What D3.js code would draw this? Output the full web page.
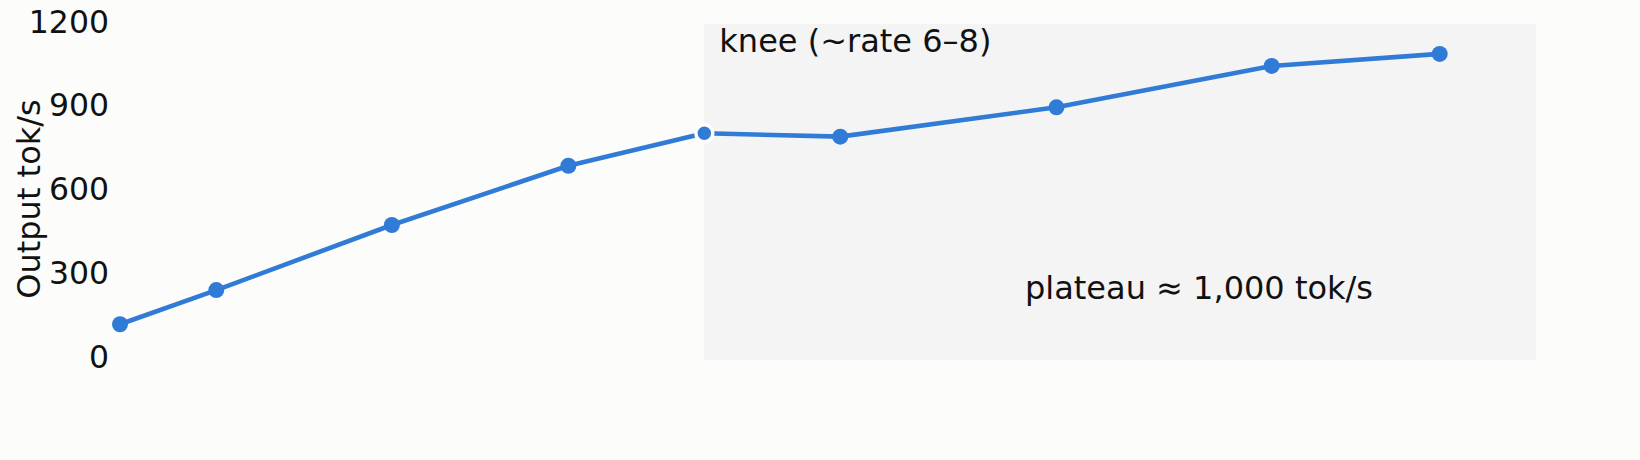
<!DOCTYPE html>
<html>
<head>
<meta charset="utf-8">
<script src="https://cdn.jsdelivr.net/npm/d3@7"></script>
<style>
  html, body { margin: 0; padding: 0; background: #fcfcfa; }
  svg { display: block; }
  text { font-family: "DejaVu Sans", sans-serif; fill: #111; }
</style>
</head>
<body>
<svg id="chart" width="1640" height="460"></svg>
<script>
// ---- data ----
const rates = [1, 2.02, 3.88, 5.75, 7.19, 8.63, 10.92, 13.2, 14.98];
const tokPerSec = [119, 241, 474, 686, 802, 790, 895, 1043, 1086];
const yTicks = [0, 300, 600, 900, 1200];
const kneeIndex = 4;
const shadeRates = [7.19, 16];
const annotKnee = "knee (~rate 6–8)";
const annotPlateau = "plateau ≈ 1,000 tok/s";
const yLabel = "Output tok/s";

// ---- layout ----
const W = 1640, H = 460;
const margin = { top: 24, right: 104, bottom: 100, left: 120 };
const iw = W - margin.left - margin.right;
const ih = H - margin.top - margin.bottom;

const svg = d3.select("#chart");
svg.append("rect").attr("width", W).attr("height", H).attr("fill", "#fcfcfa");
const g = svg.append("g").attr("transform", `translate(${margin.left},${margin.top})`);

const x = d3.scaleLinear().domain([1, 16]).range([0, iw]);
const y = d3.scaleLinear().domain([-9, 1193]).range([ih, 0]);

// shaded knee/plateau region
g.append("rect")
  .attr("x", x(shadeRates[0]))
  .attr("width", x(shadeRates[1]) - x(shadeRates[0]))
  .attr("y", 0)
  .attr("height", ih)
  .attr("fill", "#f4f4f4");

// y axis (labels only)
const yAxis = d3.axisLeft(y).tickValues(yTicks).tickSize(0).tickPadding(11).tickFormat(d3.format("d"));
const ya = g.append("g").call(yAxis);
ya.select(".domain").remove();
ya.selectAll("text").style("font-size", "31.5px").style("font-family", '"DejaVu Sans", sans-serif').attr("fill", "#111");

// axis title
svg.append("text")
  .attr("transform", "translate(40,199) rotate(-90)")
  .attr("text-anchor", "middle")
  .style("font-size", "32px")
  .text(yLabel);

// line
const pts = rates.map((r, i) => ({ r, v: tokPerSec[i], i }));
g.append("path")
  .datum(pts)
  .attr("fill", "none")
  .attr("stroke", "#2f7bd6")
  .attr("stroke-width", 4.6)
  .attr("stroke-linejoin", "round")
  .attr("d", d3.line().x(d => x(d.r)).y(d => y(d.v)));

// dots
g.selectAll("circle.dot")
  .data(pts)
  .join("circle")
  .attr("class", "dot")
  .attr("cx", d => x(d.r))
  .attr("cy", d => y(d.v))
  .attr("r", d => d.i === kneeIndex ? 8.5 : 8)
  .attr("fill", "#2f7bd6")
  .attr("stroke", d => d.i === kneeIndex ? "#ffffff" : "none")
  .attr("stroke-width", d => d.i === kneeIndex ? 3.5 : 0);

// annotations
g.append("text")
  .attr("x", x(shadeRates[0]) + 15)
  .attr("y", 28)
  .style("font-size", "32px")
  .text(annotKnee);

g.append("text")
  .attr("x", 1199 - margin.left)
  .attr("y", 299 - margin.top)
  .attr("text-anchor", "middle")
  .style("font-size", "32px")
  .text(annotPlateau);
</script>
</body>
</html>
